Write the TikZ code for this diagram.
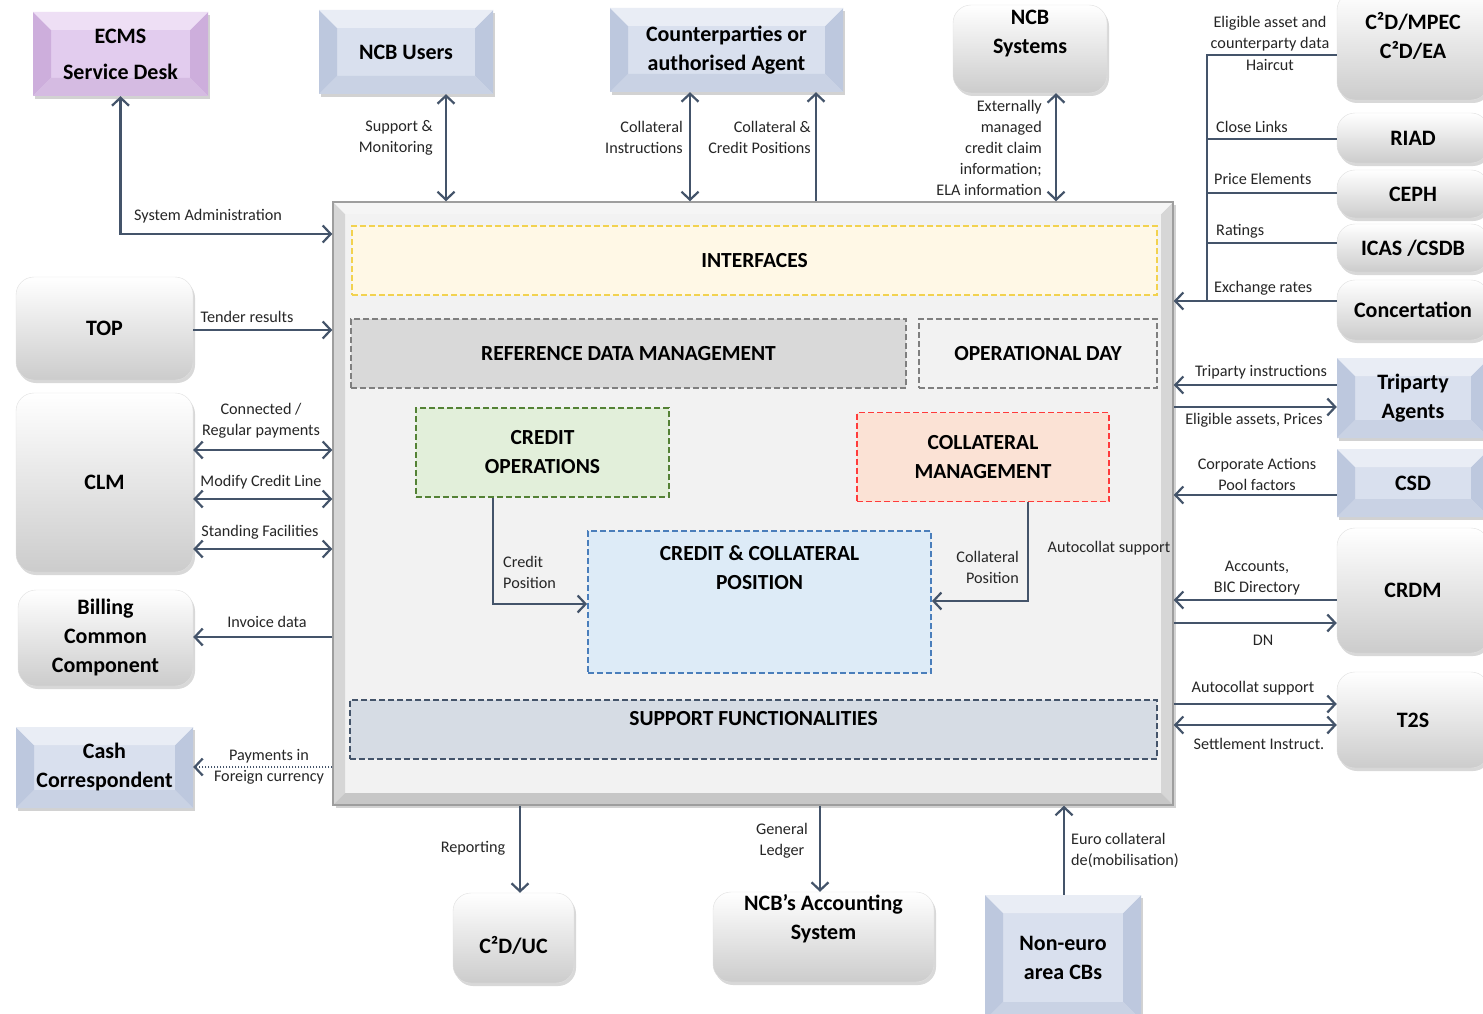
\documentclass[tikz,border=0pt]{standalone}
\usepackage{fontspec}
\setmainfont{Carlito}
\usetikzlibrary{arrows.meta,shadows}
\definecolor{arrowc}{HTML}{44546A}
\definecolor{pbase}{HTML}{E2CCEE}\definecolor{pside}{HTML}{CDAEDC}\definecolor{ptop}{HTML}{EEDFF5}\definecolor{pbot}{HTML}{D5BBE2}
\definecolor{bbase}{HTML}{D9E0EE}\definecolor{bside}{HTML}{BDC8DE}\definecolor{btop}{HTML}{E9EDF5}\definecolor{bbot}{HTML}{C9D2E4}
\definecolor{mainfill}{HTML}{F2F2F2}
\definecolor{ifacefill}{HTML}{FFF8E6}\definecolor{ifacedraw}{HTML}{F2D24F}
\definecolor{reffill}{HTML}{D9D9D9}\definecolor{refdraw}{HTML}{7F7F7F}
\definecolor{credfill}{HTML}{E2EFDA}\definecolor{creddraw}{HTML}{548235}
\definecolor{collfill}{HTML}{FBE2D5}\definecolor{colldraw}{HTML}{FF3B3B}
\definecolor{posfill}{HTML}{DDEBF7}\definecolor{posdraw}{HTML}{4A7EBB}
\definecolor{supfill}{HTML}{D6DCE4}\definecolor{supdraw}{HTML}{44546A}
\newcommand\bfnt{\fontsize{22}{29}\selectfont\bfseries}
\newcommand\bfntwide{\fontsize{22}{36}\selectfont\bfseries}
\newcommand\ifnt{\fontsize{21.5}{29}\selectfont\bfseries}
\newcommand\lfnt{\fontsize{16.2}{21}\selectfont}
\newcommand\bevelfill[4]{%
  \fill[#2] (path picture bounding box.north west) -- ([shift={(#1,#1)}]path picture bounding box.north west) -- ([shift={(#1,-#1)}]path picture bounding box.south west) -- (path picture bounding box.south west) -- cycle;
  \fill[#2] (path picture bounding box.north east) -- ([shift={(-#1,#1)}]path picture bounding box.north east) -- ([shift={(-#1,-#1)}]path picture bounding box.south east) -- (path picture bounding box.south east) -- cycle;
  \fill[#3] (path picture bounding box.north west) -- ([shift={(#1,#1)}]path picture bounding box.north west) -- ([shift={(-#1,#1)}]path picture bounding box.north east) -- (path picture bounding box.north east) -- cycle;
  \fill[#4] (path picture bounding box.south west) -- ([shift={(#1,-#1)}]path picture bounding box.south west) -- ([shift={(-#1,-#1)}]path picture bounding box.south east) -- (path picture bounding box.south east) -- cycle;}
\begin{document}
\begin{tikzpicture}[x=1pt,y=-1pt,
  purplebox/.style={fill=pbase, drop shadow={opacity=0.35,shadow xshift=2pt,shadow yshift=-3pt},
     path picture={\bevelfill{18}{pside}{ptop}{pbot}}, font=\bfnt, align=center, inner sep=0pt},
  bluebox/.style={fill=bbase, drop shadow={opacity=0.35,shadow xshift=2pt,shadow yshift=-3pt},
     path picture={\bevelfill{18}{bside}{btop}{bbot}}, font=\bfnt, align=center, inner sep=0pt},
  graybox/.style={rounded corners=18pt, top color=white, bottom color=black!20, draw=black!12,
     drop shadow={opacity=0.3,shadow xshift=2pt,shadow yshift=-3pt}, font=\bfnt, align=center, inner sep=0pt},
  mainbox/.style={fill=mainfill, draw=black!38, line width=1.5pt,
     drop shadow={opacity=0.35,shadow xshift=3pt,shadow yshift=-3pt},
     path picture={\bevelfill{12}{black!16}{black!4}{black!22}}, inner sep=0pt},
  dbox/.style 2 args={draw=#1, fill=#2, dash pattern=on 6pt off 3pt, line width=1.8pt,
     font=\ifnt, align=center, inner sep=0pt},
  txt/.style={font=\bfnt, align=center, inner sep=0pt},
  itxt/.style={font=\ifnt, align=center, inner sep=0pt},
  lbl/.style={font=\lfnt, align=center, inner sep=0pt, text=black!85},
  arr/.style={draw=arrowc, line width=2.2pt, arrows={-Straight Barb[length=8pt,width=17pt]}},
  barr/.style={draw=arrowc, line width=2.2pt, arrows={Straight Barb[length=8pt,width=17pt]-Straight Barb[length=8pt,width=17pt]}},
  line/.style={draw=arrowc, line width=2.2pt},
  darr/.style={draw=arrowc, line width=2.2pt, dash pattern=on 1.5pt off 1.5pt, arrows={-Straight Barb[length=8pt,width=17pt]}}
]
\useasboundingbox (0,0) rectangle (1483,1014);
\fill[white] (0,0) rectangle (1483,1014);

% main box
\node[mainbox, minimum width=840, minimum height=603] (main) at (753,503.5) {};
\node[dbox={ifacedraw}{ifacefill}, minimum width=805, minimum height=69] (iface) at (754.5,260.5) {INTERFACES};
\node[dbox={refdraw}{reffill}, minimum width=555, minimum height=69] (refdata) at (628.5,353.5) {REFERENCE DATA MANAGEMENT};
\node[dbox={refdraw}{mainfill}, minimum width=238, minimum height=69] (opday) at (1038,353.5) {OPERATIONAL DAY};
\node[dbox={creddraw}{credfill}, minimum width=253, minimum height=89] (creditops) at (542.5,452.5) {CREDIT\\OPERATIONS};
\node[dbox={colldraw}{collfill}, minimum width=252, minimum height=89] (collmgmt) at (983,457) {COLLATERAL\\MANAGEMENT};
\node[dbox={posdraw}{posfill}, minimum width=343, minimum height=142] (ccpos) at (759.5,602) {};
\node[itxt] (ccpost) at (759.5,568) {CREDIT \& COLLATERAL\\POSITION};
\node[dbox={supdraw}{supfill}, minimum width=807, minimum height=59] (support) at (753.5,729.5) {};
\node[itxt] (supportt) at (753.5,719) {SUPPORT FUNCTIONALITIES};

% internal arrows
\draw[arr] (creditops.south -| 493,0) |- (ccpos.west |- 0,604);
\node[lbl, anchor=west, align=left] (cpl) at (503,572.5) {Credit\\Position};
\draw[arr] (collmgmt.south -| 1028,0) |- (ccpos.east |- 0,601);
\node[lbl, anchor=east, align=right] (colpl) at (1019,567) {Collateral\\Position};
\node[lbl] (acs1) at (1109,548) {Autocollat support};

% top nodes
\node[purplebox, font=\bfntwide, minimum width=175, minimum height=84] (ecms) at (120.5,54) {ECMS\\Service Desk};
\node[bluebox, minimum width=174, minimum height=84] (ncbusers) at (406,52) {NCB Users};
\node[bluebox, minimum width=233, minimum height=84] (cpty) at (726.5,50) {Counterparties or\\authorised Agent};
\node[graybox, minimum width=154, minimum height=88] (ncbsys) at (1030,49) {};
\node[txt] (ncbsyst) at (1030,34) {NCB\\Systems};

% right nodes
\node[graybox, minimum width=152, minimum height=108] (c2d) at (1413,46) {};
\node[txt] (c2dt) at (1413,36) {C²D/MPEC\\C²D/EA};
\node[graybox, minimum width=152, minimum height=50] (riad) at (1413,138) {RIAD};
\node[graybox, minimum width=152, minimum height=48] (ceph) at (1413,194) {CEPH};
\node[graybox, minimum width=152, minimum height=48] (icas) at (1413,248) {ICAS /CSDB};
\node[graybox, minimum width=152, minimum height=60] (conc) at (1413,310) {Concertation};
\node[bluebox, minimum width=152, minimum height=80] (triparty) at (1413,398) {Triparty\\Agents};
\node[bluebox, minimum width=152, minimum height=68] (csd) at (1413,483) {CSD};
\node[graybox, minimum width=152, minimum height=125] (crdm) at (1413,590.5) {CRDM};
\node[graybox, minimum width=152, minimum height=96] (t2s) at (1413,720) {T2S};

% left nodes
\node[graybox, minimum width=177, minimum height=103] (top) at (104.5,328.5) {TOP};
\node[graybox, minimum width=177, minimum height=179] (clm) at (104.5,482.5) {CLM};
\node[graybox, minimum width=175, minimum height=96] (billing) at (105.5,638) {Billing\\Common\\Component};
\node[bluebox, minimum width=177, minimum height=81] (cash) at (104.5,767.5) {Cash\\Correspondent};

% bottom nodes
\node[graybox, minimum width=121, minimum height=90] (c2duc) at (513.5,938) {};
\node[txt] (c2duct) at (513.5,945) {C²D/UC};
\node[graybox, minimum width=221, minimum height=90] (ncbacc) at (823.5,937) {};
\node[txt] (ncbacct) at (823.5,919) {NCB’s Accounting\\System};
\node[bluebox, minimum width=156, minimum height=125] (noneuro) at (1063,957.5) {Non-euro\\area CBs};

% top connectors
\draw[barr] (ecms.south) |- (main.west |- 0,234);
\node[lbl] (l-sysadm) at (208,216) {System Administration};
\draw[barr] (ncbusers.south -| 446,0) -- (main.north -| 446,0);
\node[lbl, anchor=east, align=right] (l-supp) at (433,137.5) {Support \&\\Monitoring};
\draw[barr] (cpty.south -| 690,0) -- (main.north -| 690,0);
\node[lbl, anchor=east, align=right] (l-colins) at (683,137.5) {Collateral\\Instructions};
\draw[arr] (main.north -| 816,0) -- (cpty.south -| 816,0);
\node[lbl, anchor=east, align=right] (l-colcred) at (811,137.5) {Collateral \&\\Credit Positions};
\draw[barr] (ncbsys.south -| 1056,0) -- (main.north -| 1056,0);
\node[lbl, anchor=east, align=right] (l-ext) at (1042,148) {Externally\\managed\\credit claim\\information;\\ELA information};

% right bus
\coordinate (busT) at (1207,55);
\coordinate (busB) at (1207,301);
\draw[line] (c2d.west |- busT) -- (busT) -- (busB);
\draw[line] (riad.west |- 0,139) -- (busT |- 0,139);
\draw[line] (ceph.west |- 0,193) -- (busT |- 0,193);
\draw[line] (icas.west |- 0,243) -- (busT |- 0,243);
\draw[arr] (conc.west |- busB) -- (main.east |- busB);
\node[lbl] (l-elig) at (1270,33.5) {Eligible asset and\\counterparty data};
\node[lbl] (l-hair) at (1270,65) {Haircut};
\node[lbl, anchor=west] (l-close) at (1216,127) {Close Links};
\node[lbl, anchor=west] (l-price) at (1214,179) {Price Elements};
\node[lbl, anchor=west] (l-rat) at (1216,231) {Ratings};
\node[lbl, anchor=west] (l-exch) at (1214,288) {Exchange rates};

% right connectors
\draw[arr] (triparty.west |- 0,385) -- (main.east |- 0,385);
\node[lbl] (l-tri) at (1261,372) {Triparty instructions};
\draw[arr] (main.east |- 0,407) -- (triparty.west |- 0,407);
\node[lbl] (l-eliga) at (1254,420) {Eligible assets, Prices};
\draw[arr] (csd.west |- 0,495) -- (main.east |- 0,495);
\node[lbl] (l-corp) at (1257,474.5) {Corporate Actions\\Pool factors};
\draw[arr] (crdm.west |- 0,600) -- (main.east |- 0,600);
\node[lbl] (l-acc) at (1257,578.5) {Accounts,\\BIC Directory};
\draw[arr] (main.east |- 0,623) -- (crdm.west |- 0,623);
\node[lbl] (l-dn) at (1263,640) {DN};
\draw[arr] (main.east |- 0,704) -- (t2s.west |- 0,704);
\node[lbl] (l-auto) at (1253,688) {Autocollat support};
\draw[barr] (main.east |- 0,725) -- (t2s.west |- 0,725);
\node[lbl] (l-settl) at (1259,744) {Settlement Instruct.};

% left connectors
\draw[arr] (top.east |- 0,330) -- (main.west |- 0,330);
\node[lbl] (l-tender) at (247,317) {Tender results};
\draw[barr] (clm.east |- 0,450) -- (main.west |- 0,450);
\node[lbl] (l-conn) at (261,420.5) {Connected /\\Regular payments};
\draw[barr] (clm.east |- 0,499) -- (main.west |- 0,499);
\node[lbl] (l-mod) at (261,482) {Modify Credit Line};
\draw[barr] (clm.east |- 0,549) -- (main.west |- 0,549);
\node[lbl] (l-stand) at (260,532) {Standing Facilities};
\draw[arr] (main.west |- 0,637) -- (billing.east |- 0,637);
\node[lbl] (l-inv) at (267,622) {Invoice data};
\draw[darr] (main.west |- 0,767) -- (cash.east |- 0,767);
\node[lbl] (l-pay) at (269,767) {Payments in\\Foreign currency};

% bottom connectors
\draw[arr] (main.south -| 520,0) -- (c2duc.north -| 520,0);
\node[lbl] (l-rep) at (473,848) {Reporting};
\draw[arr] (main.south -| 820,0) -- (ncbacc.north -| 820,0);
\node[lbl] (l-gl) at (782,840.5) {General\\Ledger};
\draw[arr] (noneuro.north -| 1064,0) -- (main.south -| 1064,0);
\node[lbl, anchor=west, align=left] (l-euro) at (1071,850.5) {Euro collateral\\de(mobilisation)};
\end{tikzpicture}
\end{document}
